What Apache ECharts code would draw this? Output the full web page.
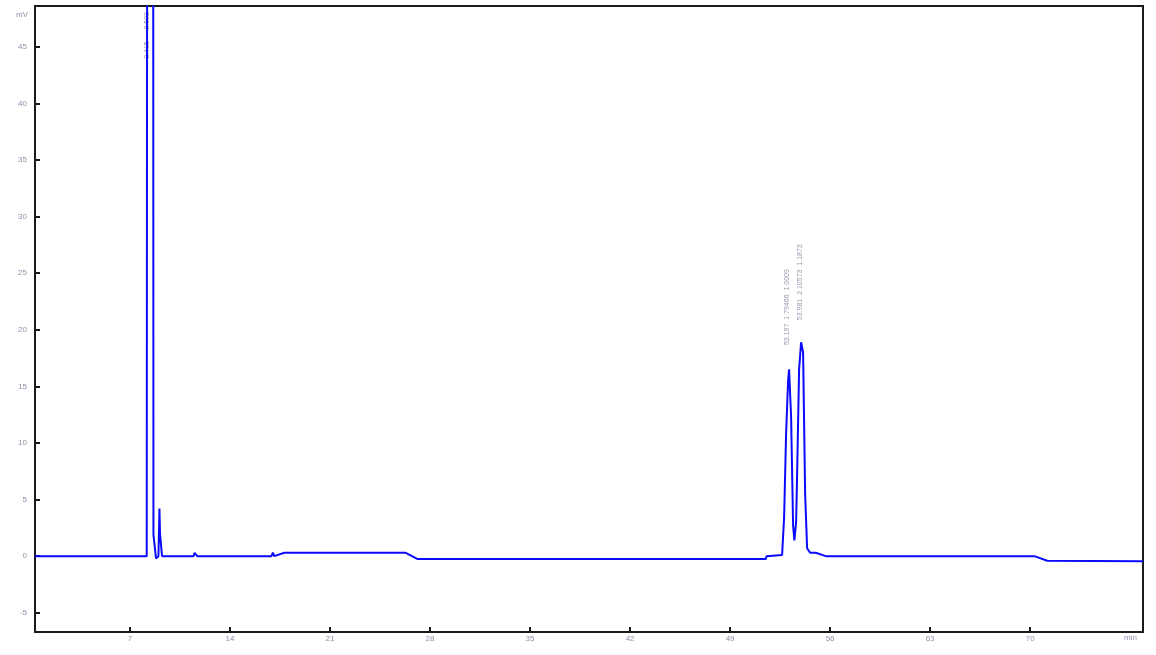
<!DOCTYPE html>
<html>
<head>
<meta charset="utf-8">
<title>chromatogram</title>
<script src="https://cdn.jsdelivr.net/npm/echarts@6/dist/echarts.min.js"></script>
<style>
    html, body { margin: 0; padding: 0; background: #fff; }
    #chart { width: 1156px; height: 655px; }
</style>
</head>
<body>
<div id="chart"></div>
<script>
// 时间 (min) 和 信号 (mV)
var times = [
    0.35, 8.17, 8.22, 8.61, 8.64, 8.75, 8.82, 8.99, 9.06, 9.10, 9.17, 9.24,
    11.45, 11.52, 11.62, 11.70, 16.90, 17.00, 17.10, 17.80, 26.30, 27.10,
    51.50, 51.55, 52.64, 52.78, 52.92, 53.06, 53.13, 53.20, 53.27, 53.41,
    53.50, 53.55, 53.62, 53.69, 53.83, 53.97, 54.04, 54.11, 54.25, 54.39,
    54.60, 55.00, 55.70, 70.30, 71.20, 77.90
];
var signal = [
    0, 0, 100, 100, 1.9, 1.9, -0.2, 0, 4.2, 2.0, 2.0, 0,
    0, 0.3, 0.3, 0, 0, 0.3, 0, 0.3, 0.3, -0.25,
    -0.25, 0, 0.1, 3.4, 10.8, 15.5, 16.5, 16.6, 12.3, 2.7,
    1.4, 1.4, 3.0, 7.2, 16.5, 18.9, 18.8, 18.0, 5.6, 0.7,
    0.3, 0.3, 0, 0, -0.4, -0.45
];
var xTicks = [7, 14, 21, 28, 35, 42, 49, 56, 63, 70];
var yTicks = [-5, 0, 5, 10, 15, 20, 25, 30, 35, 40, 45];
// 峰标注 (位置 min, mV, 文字)
var peakLabels = [
    [8.2, 46, '8.415      8.592'],
    [53.0, 22, '53.197  1 79466  1.0009'],
    [53.9, 24.2, '53.981  2 10573  1.1873']
];

var lineData = times.map(function (t, i) {
    return [t, signal[i]];
});

var chart = echarts.init(document.getElementById('chart'));
var labelColor = '#8c90aa';
var option = {
    animation: false,
    textStyle: { fontFamily: 'Liberation Sans' },
    grid: {
        left: 35,
        top: 6,
        right: 13,
        bottom: 23,
        show: true,
        borderColor: '#1a1a1a',
        borderWidth: 2
    },
    xAxis: {
        type: 'value',
        min: 0.35,
        max: 77.9,
        axisLine: { onZero: false, lineStyle: { color: '#1a1a1a', width: 2 } },
        axisTick: {
            inside: true,
            length: 5,
            customValues: xTicks,
            lineStyle: { color: '#1a1a1a', width: 2 }
        },
        axisLabel: {
            customValues: xTicks,
            margin: 3,
            fontSize: 8,
            color: labelColor
        },
        splitLine: { show: false }
    },
    yAxis: {
        type: 'value',
        min: -6.7,
        max: 48.6,
        axisLine: { onZero: false, lineStyle: { color: '#1a1a1a', width: 2 } },
        axisTick: {
            inside: true,
            length: 5,
            customValues: yTicks,
            lineStyle: { color: '#1a1a1a', width: 2 }
        },
        axisLabel: {
            customValues: yTicks,
            margin: 8,
            fontSize: 8,
            color: labelColor
        },
        splitLine: { show: false }
    },
    graphic: [
        {
            type: 'text',
            left: 16,
            top: 11,
            style: { text: 'mV', fontSize: 8, fill: labelColor, fontFamily: 'Liberation Sans' }
        },
        {
            type: 'text',
            left: 1124,
            top: 634,
            style: { text: 'min', fontSize: 8, fill: labelColor, fontFamily: 'Liberation Sans' }
        }
    ],
    series: [
        {
            type: 'line',
            data: lineData,
            symbol: 'none',
            clip: true,
            lineStyle: { color: '#0a0aff', width: 2 }
        },
        {
            type: 'scatter',
            data: peakLabels,
            symbolSize: 0,
            silent: true,
            label: {
                show: true,
                position: 'inside',
                rotate: 90,
                fontSize: 7,
                color: '#7a7e96',
                formatter: function (p) {
                    return p.value[2];
                }
            }
        }
    ]
};
chart.setOption(option);
</script>
</body>
</html>
